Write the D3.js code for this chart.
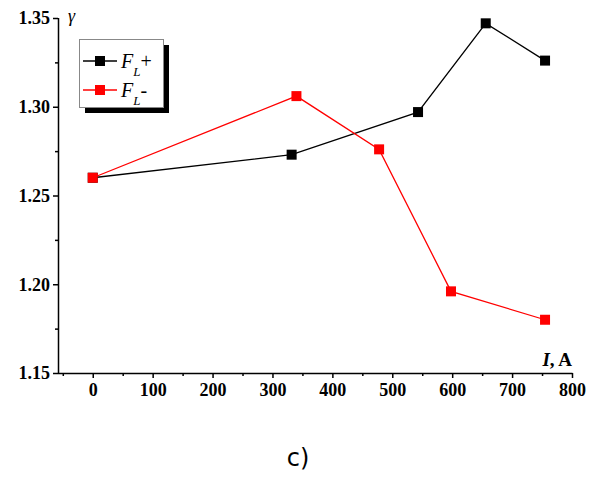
<!DOCTYPE html>
<html><head><meta charset="utf-8">
<script src="https://cdn.jsdelivr.net/npm/d3@7"></script>
<style>body{margin:0;background:#fff}</style>
</head><body>
<div id="chart"></div>
<script>
var xTicks = [0, 100, 200, 300, 400, 500, 600, 700, 800];
var yTicks = [1.15, 1.20, 1.25, 1.30, 1.35];
var plusX = [0, 332, 543, 656, 755];
var plusY = [1.260, 1.273, 1.297, 1.347, 1.326];
var minusX = [0, 340, 478, 598, 755];
var minusY = [1.260, 1.306, 1.276, 1.196, 1.180];

var svg = d3.select("#chart").append("svg").attr("width", 597).attr("height", 481);
var xscale = d3.scaleLinear().domain([-58, 800]).range([58, 572]);
var yscale = d3.scaleLinear().domain([1.15, 1.35]).range([373, 18]);
var font = "'Liberation Serif', 'Times New Roman', serif";

var xAxis = svg.append("g").attr("transform", "translate(0,373)")
    .call(d3.axisBottom(xscale).tickValues(xTicks).tickSize(5).tickPadding(5));
svg.append("g").attr("transform", "translate(0,373)")
    .call(d3.axisBottom(xscale).tickValues(d3.range(-50, 800, 100)).tickSize(3).tickFormat(""))
    .select(".domain").remove();
var yAxis = svg.append("g").attr("transform", "translate(58,0)")
    .call(d3.axisLeft(yscale).tickValues(yTicks).tickSize(5).tickPadding(3).tickFormat(d3.format(".2f")));
svg.append("g").attr("transform", "translate(58,0)")
    .call(d3.axisLeft(yscale).tickValues([1.175, 1.225, 1.275, 1.325]).tickSize(3).tickFormat(""))
    .select(".domain").remove();
svg.selectAll(".domain").attr("d", null);
xAxis.select(".domain").attr("d", "M58,0.5H572.5");
yAxis.select(".domain").attr("d", "M0.5,18V373");
svg.selectAll(".domain,.tick line").attr("stroke", "#000").attr("stroke-width", 1.5);
svg.selectAll(".tick text").style("font-family", font).style("font-size", "18px")
    .style("font-weight", "bold").attr("fill", "#000");

svg.append("text").attr("x", 572).attr("y", 366).attr("text-anchor", "end")
    .style("font-family", font).style("font-size", "19px").style("font-weight", "bold")
    .html("<tspan font-style='italic'>I</tspan>, A");
svg.append("text").attr("x", 68).attr("y", 22)
    .style("font-family", font).style("font-size", "18px").style("font-style", "italic").text("γ");

function series(xs, ys, color) {
    var pts = xs.map(function (d, i) { return [d, ys[i]]; });
    svg.append("path").datum(pts).attr("fill", "none").attr("stroke", color).attr("stroke-width", 1.3)
        .attr("d", d3.line().x(function (d) { return xscale(d[0]); }).y(function (d) { return yscale(d[1]); }));
    svg.selectAll(null).data(pts).enter().append("rect")
        .attr("x", function (d) { return xscale(d[0]) - 5; })
        .attr("y", function (d) { return yscale(d[1]) - 5; })
        .attr("width", 10).attr("height", 10).attr("fill", color);
}
series(plusX, plusY, "#000");
series(minusX, minusY, "#f00");

// legend
svg.append("rect").attr("x", 85).attr("y", 45).attr("width", 84).attr("height", 68).attr("fill", "#000");
svg.append("rect").attr("x", 79.5).attr("y", 39.5).attr("width", 84).attr("height", 68)
    .attr("fill", "#fff").attr("stroke", "#888");
var leg = [["#000", "+", 61], ["#f00", "-", 90]];
leg.forEach(function (l) {
    svg.append("line").attr("x1", 83).attr("x2", 117).attr("y1", l[2]).attr("y2", l[2])
        .attr("stroke", l[0]).attr("stroke-width", 1.3);
    svg.append("rect").attr("x", 95).attr("y", l[2] - 5).attr("width", 10).attr("height", 10).attr("fill", l[0]);
    var t = svg.append("text").attr("x", 121).attr("y", l[2] + 7)
        .style("font-family", font).style("font-size", "20px");
    t.append("tspan").style("font-style", "italic").text("F");
    t.append("tspan").attr("dy", 8).style("font-size", "13px").style("font-style", "italic").text("L");
    t.append("tspan").attr("dy", -8).text(l[1]);
});

svg.append("text").attr("x", 298).attr("y", 466).attr("text-anchor", "middle")
    .style("font-family", "'DejaVu Sans', sans-serif").style("font-size", "24px").text("c)");
</script>
</body></html>
